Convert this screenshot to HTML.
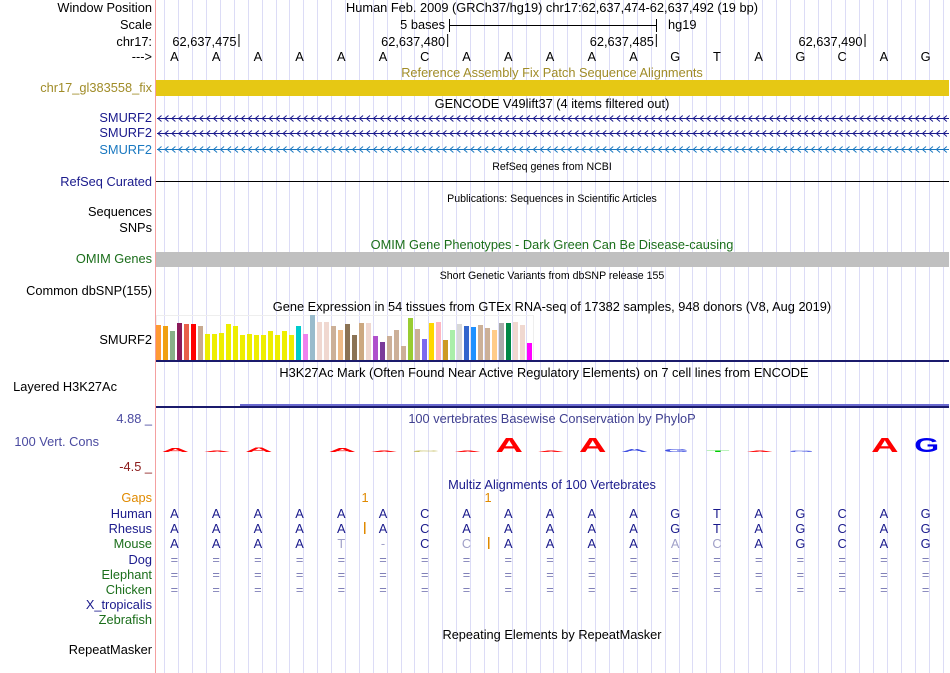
<!DOCTYPE html>
<html><head><meta charset="utf-8"><style>
html,body{margin:0;padding:0;background:#fff;width:950px;height:673px;overflow:hidden}
svg{display:block;font-family:"Liberation Sans",sans-serif}
</style></head><body>
<svg id="svg" width="950" height="673" viewBox="0 0 950 673" xmlns="http://www.w3.org/2000/svg">
<g id="grid"></g>
<line x1="155.5" y1="0" x2="155.5" y2="673" stroke="#f4a0a0"/>
<g font-size="12.8" text-anchor="end">
<text x="152" y="12" fill="#000">Window Position</text>
<text x="152" y="29" fill="#000">Scale</text>
<text x="152" y="46" fill="#000">chr17:</text>
<text x="152" y="61" fill="#000">---&gt;</text>
<text x="152" y="92" fill="#a08c28">chr17_gl383558_fix</text>
<text x="152" y="122" fill="#1a1a8c">SMURF2</text>
<text x="152" y="137" fill="#1a1a8c">SMURF2</text>
<text x="152" y="154" fill="#1a78c0">SMURF2</text>
<text x="152" y="186" fill="#1a1a8c">RefSeq Curated</text>
<text x="152" y="216" fill="#000">Sequences</text>
<text x="152" y="232" fill="#000">SNPs</text>
<text x="152" y="263" fill="#1b6e1b">OMIM Genes</text>
<text x="152" y="295" fill="#000">Common dbSNP(155)</text>
<text x="152" y="344" fill="#000">SMURF2</text>
<text x="117" y="391" fill="#000">Layered H3K27Ac</text>
<text x="152" y="423" fill="#4a4aa0">4.88 _</text>
<text x="99" y="446" fill="#4a4aa0">100 Vert. Cons</text>
<text x="152" y="471" fill="#8b1a1a">-4.5 _</text>
<text x="152" y="502" fill="#e08a00">Gaps</text>
<text x="152" y="518" fill="#1a1a8c">Human</text>
<text x="152" y="533" fill="#1a1a8c">Rhesus</text>
<text x="152" y="548" fill="#1b6e1b">Mouse</text>
<text x="152" y="564" fill="#1a1a8c">Dog</text>
<text x="152" y="579" fill="#1b6e1b">Elephant</text>
<text x="152" y="594" fill="#1b6e1b">Chicken</text>
<text x="152" y="609" fill="#1a1a8c">X_tropicalis</text>
<text x="152" y="624" fill="#1b6e1b">Zebrafish</text>
<text x="152" y="654" fill="#000">RepeatMasker</text>
</g>
<g font-size="12.8" text-anchor="middle">
<text x="552" y="12">Human Feb. 2009 (GRCh37/hg19)   chr17:62,637,474-62,637,492 (19 bp)</text>
<text x="552" y="77" fill="#a08c28">Reference Assembly Fix Patch Sequence Alignments</text>
<text x="552" y="108">GENCODE V49lift37 (4 items filtered out)</text>
<text x="552" y="170" font-size="10.6">RefSeq genes from NCBI</text>
<text x="552" y="202" font-size="10.6">Publications: Sequences in Scientific Articles</text>
<text x="552" y="249" fill="#1b6e1b">OMIM Gene Phenotypes - Dark Green Can Be Disease-causing</text>
<text x="552" y="279" font-size="10.6">Short Genetic Variants from dbSNP release 155</text>
<text x="552" y="311">Gene Expression in 54 tissues from GTEx RNA-seq of 17382 samples, 948 donors (V8, Aug 2019)</text>
<text x="544" y="377">H3K27Ac Mark (Often Found Near Active Regulatory Elements) on 7 cell lines from ENCODE</text>
<text x="552" y="423" fill="#404090">100 vertebrates Basewise Conservation by PhyloP</text>
<text x="552" y="489" fill="#1a1a8c">Multiz Alignments of 100 Vertebrates</text>
<text x="552" y="639">Repeating Elements by RepeatMasker</text>
</g>
<g font-size="12.8">
<text x="445" y="29" text-anchor="end">5 bases</text>
<line x1="449" y1="25.5" x2="656" y2="25.5" stroke="#000"/>
<line x1="449.5" y1="19" x2="449.5" y2="32" stroke="#000"/>
<line x1="656.5" y1="19" x2="656.5" y2="32" stroke="#000"/>
<text x="668" y="29">hg19</text>
</g>
<g id="ruler" font-size="12.8"></g>
<g id="bases" font-size="12.8" text-anchor="middle"></g>
<rect x="156" y="80" width="793" height="16" fill="#e6c814"/>
<g id="genes"></g>
<line x1="156" y1="181.5" x2="949" y2="181.5" stroke="#000"/>
<rect x="156" y="252" width="793" height="15" fill="#c0c0c0"/>
<rect x="156.5" y="315.5" width="377" height="45" fill="none" stroke="#eee"/>
<g id="gtex"></g>
<rect x="156" y="360" width="793" height="2" fill="#1a1a6c"/>
<rect x="240" y="404" width="709" height="2" fill="#6a6ad0"/>
<rect x="156" y="406" width="793" height="2" fill="#1a1a6c"/>
<g id="cons"></g>
<g id="multiz" font-size="12.8" text-anchor="middle"></g>
</svg>
<script>
const NS="http://www.w3.org/2000/svg";
const refBases=["A","A","A","A","A","A","C","A","A","A","A","A","G","T","A","G","C","A","G"];
const rulerLabels=["62,637,475","62,637,480","62,637,485","62,637,490"];
const rulerIdx=[1,6,11,16];
const gtexValues=[35,34,29,37,36,36,34,26,26,27,36,34,25,26,25,25,29,25,29,25,34,26,45,38,38,34,30,36,25,37,37,24,18,24,30,14,42,31,21,37,38,20,30,36,34,33,35,32,30,37,37,38,35,17];
const gtexColors=["#ff9933","#f0a010","#88b088","#8b1a5a","#e8604a","#ff0000","#c8aa90","#eeee00","#eeee00","#eeee00","#eeee00","#eeee00","#eeee00","#eeee00","#eeee00","#eeee00","#eeee00","#eeee00","#eeee00","#eeee00","#00cccc","#ee82ee","#99bbcc","#f0d8d0","#f0d8d0","#ccb098","#eebb88","#8b7355","#8b7355","#cca880","#f0d8d0","#b050cc","#7a3a9a","#ccb098","#ccb098","#ccb098","#99cc33","#ccb098","#7b68ee","#ffd700","#ffb6c1","#cc9922","#aaeeaa","#d8d8d8","#3366cc","#1e90ff","#ccb098","#ccb098","#ffcc88","#aaaaaa","#008844","#f0d8d0","#f0d8d0","#ff00ff"];
const consLetters=["A","A","A","A","A","A","C","A","A","A","A","A","G","T","A","G","C","A","G"];
const consScores=[0.25,0.1,0.3,0,0.25,0.05,0.05,0.05,1,0.05,1,0.2,0.2,0.1,0.05,0.1,0,1,1];
const consColors=["red","red","red","red","red","red","#b8b040","red","red","red","red","#4050e0","#4050e0","#00cc00","red","#4050e0","#4050e0","red","#0000ee"];
const mouseBases=["A","A","A","A","T","-","C","C","A","A","A","A","A","C","A","G","C","A","G"];
const mouseFaded=[0,0,0,0,1,1,0,1,0,0,0,0,1,1,0,0,0,0,0];
const x0=156,bw=793/19;
function bx(i){return x0+bw*(i+0.5)-2.5;}
function mk(tag,attrs,parent,txt){const e=document.createElementNS(NS,tag);for(const k in attrs)e.setAttribute(k,attrs[k]);if(txt!==undefined)e.textContent=txt;parent.appendChild(e);return e;}
const grid=document.getElementById('grid');
for(let x=164.3;x<950;x+=13.9){const l=mk('line',{x1:Math.round(x)+0.5,y1:0,x2:Math.round(x)+0.5,y2:673,stroke:'#dcdcf6'},grid);

}
const ruler=document.getElementById('ruler');
rulerLabels.forEach((s,k)=>{const tx=x0+bw*(rulerIdx[k]+1)-1;
const t=mk('text',{x:tx-2,y:46,'text-anchor':'end'},ruler,s);


mk('line',{x1:tx+0.5,y1:34,x2:tx+0.5,y2:47,stroke:'#000'},ruler);});
const bases=document.getElementById('bases');
refBases.forEach((b,i)=>{const t=mk('text',{x:bx(i),y:61},bases,b);

});
const genes=document.getElementById('genes');
[[118,'#1a1a8c'],[133,'#1a1a8c'],[149,'#1a78c0']].forEach(([y,c],r)=>{
const l=mk('line',{x1:157,y1:y+0.5,x2:949,y2:y+0.5,stroke:c},genes);


let d='';for(let x=158;x<949;x+=6.95){d+=`M${x+3.5},${y-2.5}L${x},${y+0.5}L${x+3.5},${y+3.5}`;}
mk('path',{d:d,stroke:c,fill:'none','stroke-width':1},genes);});
const gtex=document.getElementById('gtex');
gtexValues.forEach((v,i)=>{const r=mk('rect',{x:156+i*7,y:360-v,width:5,height:v,fill:gtexColors[i]},gtex);

});
const cons=document.getElementById('cons');
consLetters.forEach((b,i)=>{const s=consScores[i];if(s<=0)return;
const h=Math.max(1.5,s*15);const base=452;
const t=mk('text',{x:0,y:0,'font-size':20,'font-weight':'bold','text-anchor':'middle',fill:consColors[i],transform:`translate(${bx(i)+1},${base}) scale(${b==='G'?1.6:1.9},${h/14.5})`},cons,b);

});
const mz=document.getElementById('multiz');
[[365,'#e08a00'],[488,'#e08a00']].forEach(([x,c])=>{const t=mk('text',{x:x,y:502,fill:c},mz,'1');

});
refBases.forEach((b,i)=>{
const h=mk('text',{x:bx(i),y:518,fill:'#1a1a8c'},mz,b);


const r=mk('text',{x:bx(i),y:533,fill:'#1a1a8c'},mz,b);


const m=mk('text',{x:bx(i),y:548,fill:mouseFaded[i]?'#a0a0c8':'#1a1a8c'},mz,mouseBases[i]);


[564,579,594].forEach(y=>{const e=mk('text',{x:bx(i),y:y,fill:'#8080b8'},mz,'=');

});
});
mk('rect',{x:364,y:522,width:1.5,height:12,fill:'#e08a00'},mz);
mk('rect',{x:488,y:537,width:1.5,height:12,fill:'#e08a00'},mz);
</script>
</body></html>
